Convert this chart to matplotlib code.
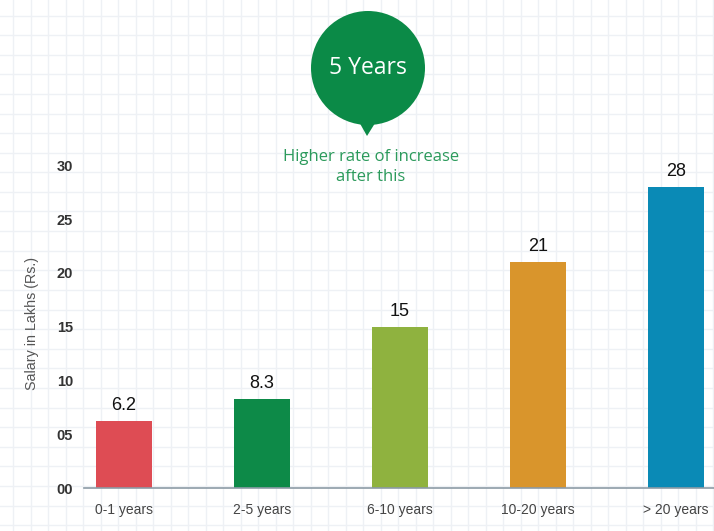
import matplotlib
matplotlib.use("Agg")
import matplotlib.pyplot as plt
from matplotlib.patches import Circle, Polygon

categories = ["0-1 years", "2-5 years", "6-10 years", "10-20 years", "> 20 years"]
salary = [6.2, 8.3, 15, 21, 28]
value_labels = ["6.2", "8.3", "15", "21", "28"]
bar_colors = ["#de4c54", "#0d8a48", "#8fb23f", "#d9952c", "#0a8ab6"]
yticks = [0, 5, 10, 15, 20, 25, 30]
ytick_labels = ["00", "05", "10", "15", "20", "25", "30"]

W, H = 714, 531
fig = plt.figure(figsize=(W / 100, H / 100), dpi=100)
fig.patch.set_facecolor("white")

# graph-paper background, in pixel coordinates
bg = fig.add_axes([0, 0, 1, 1])
bg.set_xlim(0, W)
bg.set_ylim(H, 0)
bg.set_axis_off()
x = 13.3
while x < W:
    bg.axvline(x, color="#eef1f5", lw=1.0, zorder=0)
    x += 17.5
y = 15.5
while y < H:
    bg.axhline(y, color="#eef1f5", lw=1.0, zorder=0)
    y += 19.6

# callout bubble
green = "#0b8a47"
bg.add_patch(Circle((368, 68), 57, facecolor=green, edgecolor="none", zorder=2))
bg.add_patch(Polygon([[358, 120], [377, 120], [367, 136]], closed=True,
                     facecolor=green, edgecolor="none", zorder=2))
bg.text(368, 68, "5 Years", color="white", fontsize=16.5, family="Open Sans",
        ha="center", va="center", zorder=3)
bg.text(371, 167, "Higher rate of increase\nafter this", color="#2b9a5b",
        fontsize=12, family="Open Sans", ha="center", va="center",
        linespacing=1.4, zorder=3)

# bar chart
scale = 10.75  # pixels per lakh
ax = fig.add_axes([84 / W, 43 / H, 1 - 84 / W, 338 / H])
ax.patch.set_alpha(0)
pos = list(range(len(categories)))
bars = ax.bar(pos, salary, width=0.405, color=bar_colors, zorder=2)
ax.set_xlim(-0.29, 4.275)
ax.set_ylim(0, 338 / scale)

for rect, lab in zip(bars, value_labels):
    ax.annotate(lab, (rect.get_x() + rect.get_width() / 2, rect.get_height()),
                xytext=(0, 5), textcoords="offset points", ha="center",
                va="bottom", fontsize=13, color="#111111",
                family="Liberation Sans")

for s in ["top", "right", "left"]:
    ax.spines[s].set_visible(False)
ax.spines["bottom"].set_color("#8c9ba6")
ax.spines["bottom"].set_linewidth(1.2)

ax.set_xticks(pos)
ax.set_xticklabels(categories, fontsize=10, color="#444444", family="Liberation Sans")
ax.set_yticks(yticks)
ax.set_yticklabels(ytick_labels, fontsize=10.5, color="#333333",
                   family="Liberation Sans", fontweight="bold")
ax.tick_params(axis="both", length=0)
ax.tick_params(axis="x", pad=11)
ax.tick_params(axis="y", pad=8)

fig.text(32 / W, 1 - 323 / H, "Salary in Lakhs (Rs.)", rotation=90, ha="center",
         va="center", fontsize=10.3, color="#555555", family="Liberation Sans")

fig.savefig("out.png", dpi=100)
